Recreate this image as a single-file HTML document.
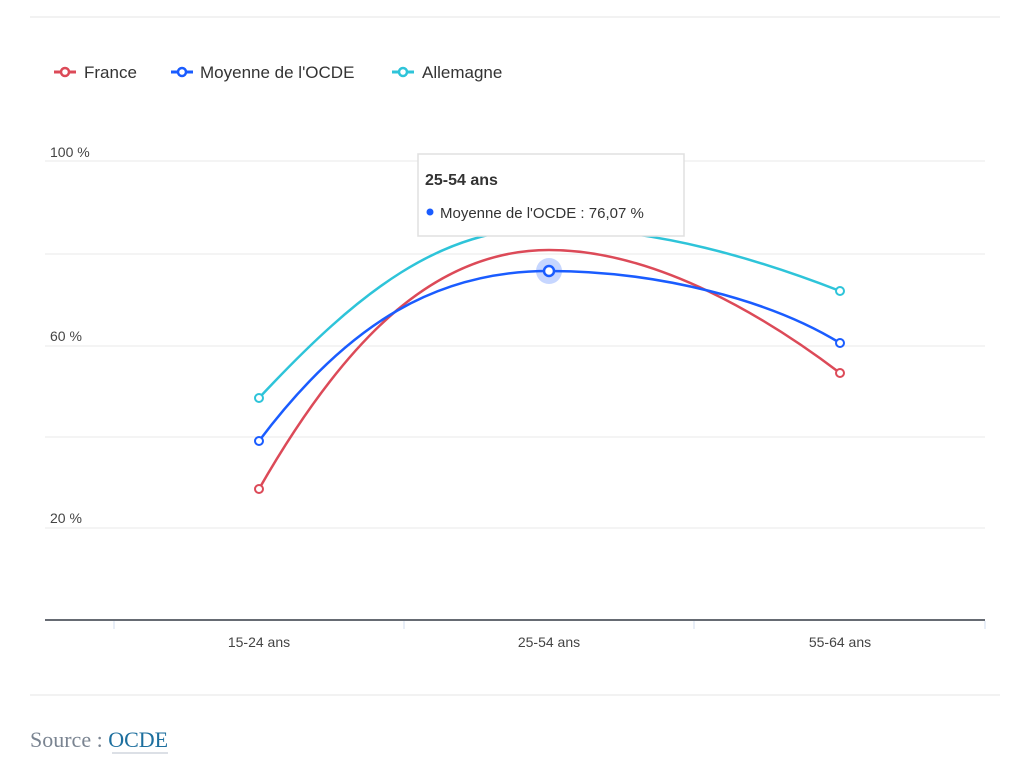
<!DOCTYPE html>
<html><head><meta charset="utf-8"><style>
body{margin:0;background:#fff;width:1023px;height:768px;overflow:hidden;font-family:"Liberation Sans",sans-serif}
</style></head><body>
<svg width="1023" height="768" xmlns="http://www.w3.org/2000/svg" style="position:absolute;left:0;top:0">
<line x1="30" y1="17" x2="1000" y2="17" stroke="#eee" stroke-width="1.5"/>
<line x1="30" y1="695" x2="1000" y2="695" stroke="#eee" stroke-width="1.5"/>
<g font-size="17" fill="#333">
<line x1="54" y1="72" x2="76" y2="72" stroke="#dc4a58" stroke-width="3"/><circle cx="65" cy="72" r="4" fill="#fff" stroke="#dc4a58" stroke-width="2.5"/><text x="84" y="78">France</text>
<line x1="171" y1="72" x2="193" y2="72" stroke="#1a5cff" stroke-width="3"/><circle cx="182" cy="72" r="4" fill="#fff" stroke="#1a5cff" stroke-width="2.5"/><text x="200" y="78">Moyenne de l'OCDE</text>
<line x1="392" y1="72" x2="414" y2="72" stroke="#2ec4d9" stroke-width="3"/><circle cx="403" cy="72" r="4" fill="#fff" stroke="#2ec4d9" stroke-width="2.5"/><text x="422" y="78">Allemagne</text>
</g>
<g stroke="#e8e8e8" stroke-width="1">
<line x1="45" y1="161" x2="985" y2="161"/><line x1="45" y1="254" x2="985" y2="254"/><line x1="45" y1="346" x2="985" y2="346"/><line x1="45" y1="437" x2="985" y2="437"/><line x1="45" y1="528" x2="985" y2="528"/>
</g>
<g font-size="14" fill="#444"><text x="50" y="157">100 %</text><text x="50" y="341">60 %</text><text x="50" y="523">20 %</text></g>
<line x1="45" y1="620" x2="985" y2="620" stroke="#333a45" stroke-width="1.5"/>
<g stroke="#d0dcef" stroke-width="1"><line x1="114" y1="621" x2="114" y2="629"/><line x1="404" y1="621" x2="404" y2="629"/><line x1="694" y1="621" x2="694" y2="629"/><line x1="985" y1="621" x2="985" y2="629"/></g>
<g font-size="14" fill="#444" text-anchor="middle"><text x="259" y="647">15-24 ans</text><text x="549" y="647">25-54 ans</text><text x="840" y="647">55-64 ans</text></g>
<g fill="none" stroke-width="2.5">
<path d="M259,398 C360,290 440,228 549,228 S760,260 840,291" stroke="#2ec4d9"/>
<path d="M259,489 C350,330 440,250 549,250 S770,320 840,373" stroke="#dc4a58"/>
<path d="M259,441 C350,320 440,271 549,271 S770,300 840,343" stroke="#1a5cff"/>
</g>
<g fill="#fff" stroke-width="2">
<circle cx="259" cy="398" r="4" stroke="#2ec4d9"/><circle cx="840" cy="291" r="4" stroke="#2ec4d9"/>
<circle cx="259" cy="489" r="4" stroke="#dc4a58"/><circle cx="840" cy="373" r="4" stroke="#dc4a58"/>
<circle cx="259" cy="441" r="4" stroke="#1a5cff"/><circle cx="840" cy="343" r="4" stroke="#1a5cff"/>
</g>
<circle cx="549" cy="271" r="13" fill="#1a5cff" opacity="0.25"/>
<circle cx="549" cy="271" r="5" fill="#fff" stroke="#1a5cff" stroke-width="2.5"/>
<rect x="418" y="154" width="266" height="82" fill="#fff" stroke="#e0e0e0" stroke-width="1.5"/>
<text x="425" y="185" font-size="16" font-weight="bold" fill="#333">25-54 ans</text>
<circle cx="430" cy="212" r="3.5" fill="#1a5cff"/>
<text x="440" y="218" font-size="15" fill="#333">Moyenne de l'OCDE : 76,07 %</text>
<text x="30" y="747" font-family="Liberation Serif,serif" font-size="22" fill="#7a8491">Source : <tspan fill="#1d6f9e">OCDE</tspan></text>
<line x1="112" y1="753" x2="168" y2="753" stroke="#b8c0cc" stroke-width="1"/>
</svg>
</body></html>
